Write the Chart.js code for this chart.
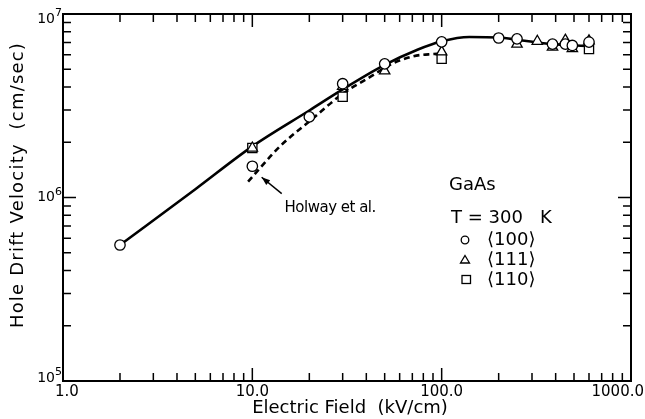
<!DOCTYPE html>
<html>
<head>
<meta charset="utf-8">
<script src="https://cdn.jsdelivr.net/npm/chart.js@4.4.1/dist/chart.umd.min.js"></script>
<style>
  html, body { margin: 0; background: #fff; }
  #wrap { width: 645px; height: 419px; }
</style>
</head>
<body>
<div id="wrap"><canvas id="c" width="645" height="419"></canvas></div>
<script>
// hole drift velocity in GaAs
const circleE = [2, 10, 20, 30, 50, 100, 200, 250, 385, 450, 490, 600];
const circleV = [5.51e5, 1.48e6, 2.75e6, 4.17e6, 5.35e6, 7.05e6, 7.4e6, 7.32e6, 6.85e6, 6.85e6, 6.74e6, 7.03e6];
const triE = [10, 30, 50, 100, 250, 320, 385, 450, 490, 600];
const triV = [1.86e6, 4.03e6, 4.9e6, 6.22e6, 6.85e6, 7.1e6, 6.6e6, 7.2e6, 6.47e6, 7.14e6];
const sqE = [10, 30, 100, 600];
const sqV = [1.86e6, 3.54e6, 5.7e6, 6.45e6];

// solid curve through the data
const fitE = [2, 5, 10, 20, 30, 50, 75, 100, 140, 200, 260, 385, 600];
const fitV = [5.51e5, 1.11e6, 1.9e6, 2.98e6, 3.88e6, 5.28e6, 6.4e6, 7.1e6, 7.5e6, 7.45e6, 7.2e6, 6.85e6, 6.7e6];
// dashed curve, Holway et al.
const holE = [9.5, 14, 20.5, 29.5, 45, 51, 70, 90, 97];
const holV = [1.22e6, 1.9e6, 2.65e6, 3.63e6, 4.75e6, 5.17e6, 5.87e6, 6.05e6, 6.07e6];

const xTickVals = [1, 10, 100, 1000];
const xTickText = ["1.0", "10.0", "100.0", "1000.0"];
const yTickVals = [1e5, 1e6, 1e7];
const yTickExp = ["5", "6", "7"];

const pts = (xs, ys) => xs.map((x, i) => ({ x, y: ys[i] }));
const FONT = '"DejaVu Sans", sans-serif';

const framePlugin = {
  id: "frame",
  afterDraw(chart) {
    const { ctx, chartArea: a, scales: { x, y } } = chart;
    ctx.save();
    ctx.strokeStyle = "#000";
    ctx.fillStyle = "#000";
    ctx.lineWidth = 2;
    ctx.strokeRect(a.left, a.top, a.right - a.left, a.bottom - a.top);

    // inward ticks on all four sides
    ctx.lineWidth = 1.5;
    ctx.beginPath();
    for (let d = 1; d < 1000; d *= 10) {
      for (let m = 1; m <= 9; m++) {
        const px = x.getPixelForValue(m * d);
        const len = m === 1 ? 13 : 8;
        ctx.moveTo(px, a.bottom); ctx.lineTo(px, a.bottom - len);
        ctx.moveTo(px, a.top); ctx.lineTo(px, a.top + len);
      }
    }
    for (let d = 1e5; d < 1e7; d *= 10) {
      for (let m = 1; m <= 9; m++) {
        const py = y.getPixelForValue(m * d);
        const len = m === 1 ? 13 : 8;
        ctx.moveTo(a.left, py); ctx.lineTo(a.left + len, py);
        ctx.moveTo(a.right, py); ctx.lineTo(a.right - len, py);
      }
    }
    ctx.stroke();

    // x tick labels
    ctx.font = "15px " + FONT;
    ctx.textBaseline = "top";
    ctx.textAlign = "center";
    xTickVals.forEach((v, i) => {
      let px = x.getPixelForValue(v);
      const w = ctx.measureText(xTickText[i]).width;
      px = Math.min(Math.max(px, a.left - 8 + w / 2), chart.width - 1 - w / 2);
      ctx.fillText(xTickText[i], px, a.bottom + 4);
    });

    // y tick labels, 10 with superscript
    yTickVals.forEach((v, i) => {
      const py = Math.min(Math.max(y.getPixelForValue(v), a.top + 5), a.bottom - 3);
      ctx.font = "11px " + FONT;
      const ew = ctx.measureText(yTickExp[i]).width;
      ctx.textAlign = "left";
      ctx.textBaseline = "alphabetic";
      ctx.fillText(yTickExp[i], a.left - 1 - ew, py - 3);
      ctx.font = "14px " + FONT;
      ctx.textAlign = "right";
      ctx.textBaseline = "middle";
      ctx.fillText("10", a.left - 1 - ew, py);
    });

    // axis titles
    ctx.font = "18px " + FONT;
    ctx.textAlign = "center";
    ctx.textBaseline = "middle";
    ctx.fillText("Electric Field  (kV/cm)", 350, 408);
    ctx.save();
    ctx.translate(18, 185);
    ctx.rotate(-Math.PI / 2);
    ctx.letterSpacing = "1.2px";
    ctx.fillText("Hole Drift Velocity  (cm/sec)", 0, 0);
    ctx.restore();

    // Holway annotation with arrow
    const tipX = x.getPixelForValue(11.2), tipY = y.getPixelForValue(1.29e6);
    const tailX = x.getPixelForValue(14.3), tailY = y.getPixelForValue(1.05e6);
    ctx.lineWidth = 1.5;
    ctx.beginPath();
    ctx.moveTo(tailX, tailY); ctx.lineTo(tipX, tipY);
    ctx.stroke();
    const ang = Math.atan2(tipY - tailY, tipX - tailX);
    ctx.beginPath();
    ctx.moveTo(tipX, tipY);
    ctx.lineTo(tipX - 9 * Math.cos(ang - 0.35), tipY - 9 * Math.sin(ang - 0.35));
    ctx.lineTo(tipX - 9 * Math.cos(ang + 0.35), tipY - 9 * Math.sin(ang + 0.35));
    ctx.closePath();
    ctx.fill();
    ctx.save();
    ctx.font = "15px " + FONT;
    ctx.letterSpacing = "-0.5px";
    ctx.textAlign = "left";
    ctx.fillText("Holway et al.", x.getPixelForValue(14.8), y.getPixelForValue(8.8e5));
    ctx.restore();

    // legend block
    ctx.font = "18px " + FONT;
    ctx.textAlign = "left";
    ctx.fillText("GaAs", 449, 185);
    ctx.fillText("T = 300   K", 451, 218);
    ctx.fillText("\u27E8100\u27E9", 487, 240);
    ctx.fillText("\u27E8111\u27E9", 487, 260);
    ctx.fillText("\u27E8110\u27E9", 487, 280);
    ctx.lineWidth = 1.3;
    ctx.beginPath(); ctx.arc(465, 240, 3.8, 0, Math.PI * 2); ctx.stroke();
    ctx.beginPath();
    ctx.moveTo(465, 255.5); ctx.lineTo(469.5, 263); ctx.lineTo(460.5, 263); ctx.closePath();
    ctx.stroke();
    ctx.strokeRect(462, 275.5, 8.5, 8);
    ctx.restore();
  }
};

const markerStyle = {
  showLine: false,
  backgroundColor: "#fff",
  borderColor: "#000",
  borderWidth: 1.3,
};

new Chart(document.getElementById("c"), {
  type: "scatter",
  data: {
    datasets: [
      {
        label: "fit", data: pts(fitE, fitV), showLine: true, borderColor: "#000",
        borderWidth: 2.6, pointRadius: 0, cubicInterpolationMode: "monotone", order: 10,
      },
      {
        label: "Holway et al.", data: pts(holE, holV), showLine: true, borderColor: "#000",
        borderWidth: 2.6, borderDash: [6, 4], pointRadius: 0, cubicInterpolationMode: "monotone", order: 9,
      },
      { ...markerStyle, label: "<110>", data: pts(sqE, sqV), pointStyle: "rect", pointRadius: 6.5, order: 3 },
      { ...markerStyle, label: "<111>", data: pts(triE, triV), pointStyle: "triangle", pointRadius: 6, order: 2 },
      { ...markerStyle, label: "<100>", data: pts(circleE, circleV), pointStyle: "circle", pointRadius: 5.2, order: 1 },
    ],
  },
  options: {
    responsive: false,
    animation: false,
    devicePixelRatio: 1,
    layout: { padding: { left: 63, right: 14, top: 14, bottom: 38 } },
    plugins: { legend: { display: false }, tooltip: { enabled: false } },
    scales: {
      x: { type: "logarithmic", min: 1, max: 1000, display: false },
      y: { type: "logarithmic", min: 1e5, max: 1e7, display: false },
    },
  },
  plugins: [framePlugin],
});
</script>
</body>
</html>
